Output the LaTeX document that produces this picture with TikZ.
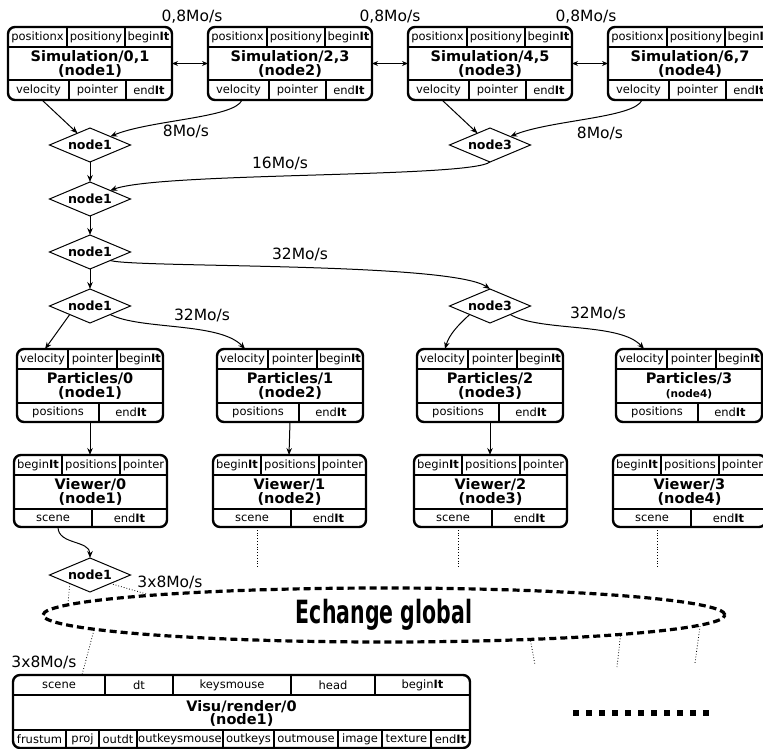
\documentclass[tikz,border=0pt]{standalone}
\usepackage{fontspec}
\setmainfont{DejaVu Sans}
\usetikzlibrary{shapes.geometric,arrows.meta}
\tikzset{
 outer/.style={draw, line width=2.4pt, rounded corners=7pt, inner sep=0pt, outer sep=0pt, anchor=north west},
 div/.style={line width=1.8pt},
 cell/.style={inner sep=0pt, font=\fontsize{11.5}{12}\selectfont},
 ttl/.style={inner sep=0pt, align=center, font=\fontsize{14.5}{14}\selectfont\bfseries},
 dia/.style={diamond, draw, aspect=2.4, line width=1pt, minimum width=81pt, minimum height=34pt, inner sep=0pt, outer sep=0pt, font=\fontsize{12.6}{13}\selectfont\bfseries},
 lbl/.style={inner sep=0pt, font=\fontsize{15.5}{16}\selectfont},
 arr/.style={-{Stealth[length=7pt,width=5.5pt]}, line width=1pt},
 dbl/.style={{Stealth[length=6pt,width=5pt]}-{Stealth[length=6pt,width=5pt]}, line width=1pt},
 dot/.style={dotted, line width=0.8pt},
 glob/.style={ellipse, draw, line width=3.2pt, dash pattern=on 7pt off 4pt, minimum width=682pt, minimum height=54pt, inner sep=0pt},
}
\newcommand\SimBox[5]{%
\begin{scope}[shift={(#2,#3)}]
 \node[outer, minimum width=164pt, minimum height=73pt] (#1) at (0,0) {};
 \draw[div] (0,20)--(164,20) (0,53)--(164,53) (59,0)--(59,20) (117,0)--(117,20) (61,53)--(61,73) (118,53)--(118,73);
 \node[cell] (#1-a) at (29.5,10.5) {positionx};
 \node[cell] (#1-b) at (88,10.5) {positiony};
 \node[cell] (#1-c) at (140.5,10.5) {begin\textbf{It}};
 \node[ttl] (#1-t) at (82,36.5) {#4\\#5};
 \node[cell] (#1-d) at (30.5,63) {velocity};
 \node[cell] (#1-e) at (89.5,63) {pointer};
 \node[cell] (#1-f) at (141,63) {end\textbf{It}};
 \coordinate (#1-out) at (34,73);
\end{scope}}
\newcommand\PartBox[5]{%
\begin{scope}[shift={(#2,#3)}]
 \node[outer, minimum width=146pt, minimum height=73pt] (#1) at (0,0) {};
 \draw[div] (0,20)--(146,20) (0,54)--(146,54) (51,0)--(51,20) (100,0)--(100,20) (82,54)--(82,73);
 \node[cell] (#1-a) at (25.5,10.5) {velocity};
 \node[cell] (#1-b) at (75.5,10.5) {pointer};
 \node[cell] (#1-c) at (123,10.5) {begin\textbf{It}};
 \node[ttl] (#1-t) at (73,37) {#4\\#5};
 \node[cell] (#1-d) at (41,63.5) {positions};
 \node[cell] (#1-e) at (114,63.5) {end\textbf{It}};
 \coordinate (#1-in) at (28,0);
 \coordinate (#1-out) at (73,73);
\end{scope}}
\newcommand\ViewBox[5]{%
\begin{scope}[shift={(#2,#3)}]
 \node[outer, minimum width=153pt, minimum height=72pt] (#1) at (0,0) {};
 \draw[div] (0,20)--(153,20) (0,54)--(153,54) (48,0)--(48,20) (106,0)--(106,20) (78,54)--(78,72);
 \node[cell] (#1-a) at (24,10.5) {begin\textbf{It}};
 \node[cell] (#1-b) at (77,10.5) {positions};
 \node[cell] (#1-c) at (129.5,10.5) {pointer};
 \node[ttl] (#1-t) at (76.5,37) {#4\\#5};
 \node[cell] (#1-d) at (39,63.5) {scene};
 \node[cell] (#1-e) at (115.5,63.5) {end\textbf{It}};
 \coordinate (#1-in) at (76,0);
 \coordinate (#1-out) at (44,72);
\end{scope}}
\begin{document}
\begin{tikzpicture}[x=1pt,y=-1pt]
\useasboundingbox (0,0) rectangle (763,749);
\clip (0,0) rectangle (763,749);
% simulation row
\SimBox{s0}{8}{27}{Simulation/0,1}{(node1)}
\SimBox{s1}{208}{27}{Simulation/2,3}{(node2)}
\SimBox{s2}{408}{27}{Simulation/4,5}{(node3)}
\SimBox{s3}{608}{27}{Simulation/6,7}{(node4)}
\draw[dbl] (s0.east) -- (s1.west);
\draw[dbl] (s1.east) -- (s2.west);
\draw[dbl] (s2.east) -- (s3.west);
\node[lbl] (la) at (192,17) {0,8Mo/s};
\node[lbl] (lb) at (390,17) {0,8Mo/s};
\node[lbl] (lc) at (586,17) {0,8Mo/s};
% diamonds
\node[dia] (d1) at (90,145) {node1};
\node[dia] (d2) at (90,199) {node1};
\node[dia] (d3) at (90,252) {node1};
\node[dia] (d4) at (90,306) {node1};
\node[dia] (n3) at (490,145) {node3};
\node[dia] (n3b) at (490,306) {node3};
\node[dia] (d5) at (90,575) {node1};
% particles and viewers
\PartBox{p0}{17}{349}{Particles/0}{(node1)}
\PartBox{p1}{217}{349}{Particles/1}{(node2)}
\PartBox{p2}{417}{349}{Particles/2}{(node3)}
\PartBox{p3}{616}{349}{Particles/3}{{\fontsize{10.5}{11}\selectfont(node4)}}
\ViewBox{v0}{14}{455}{Viewer/0}{(node1)}
\ViewBox{v1}{213}{455}{Viewer/1}{(node2)}
\ViewBox{v2}{414}{455}{Viewer/2}{(node3)}
\ViewBox{v3}{613}{455}{Viewer/3}{(node4)}
% connectors
\draw[arr] (s0-out) -- (d1);
\draw[arr] (s1-out) .. controls (235,118) and (150,120) .. (d1.north east);
\draw[arr] (s2-out) -- (n3);
\draw[arr] (s3-out) .. controls (635,118) and (550,120) .. (n3.north east);
\node[lbl] (l8a) at (186,131) {8Mo/s};
\node[lbl] (l8b) at (600,133) {8Mo/s};
\draw[arr] (d1) -- (d2);
\draw[arr] (n3.south) .. controls (470,178) and (160,172) .. (d2.north east);
\node[lbl] (l16) at (280,163) {16Mo/s};
\draw[arr] (d2) -- (d3);
\draw[arr] (d3.south east) .. controls (135,268) and (450,262) .. (n3b.north);
\node[lbl] (l32a) at (300,254) {32Mo/s};
\draw[arr] (d3) -- (d4);
\draw[arr] (d4.south west) -- (p0-in);
\draw[arr] (d4.south east) .. controls (140,330) and (220,322) .. (p1-in);
\node[lbl] (l32b) at (202,315) {32Mo/s};
\draw[arr] (n3b.south west) .. controls (458,325) and (449,335) .. (p2-in);
\draw[arr] (n3b.south east) .. controls (540,332) and (620,322) .. (p3-in);
\node[lbl] (l32c) at (598,313) {32Mo/s};
\draw[arr] (p0-out) -- (v0-in);
\draw[arr] (p1-out) -- (v1-in);
\draw[arr] (p2-out) -- (v2-in);
\draw[arr] (v0-out) .. controls (58,545) and (90,540) .. (d5.north);
\coordinate (e1) at (257,568);
\coordinate (e2) at (458,567);
\coordinate (e3) at (657,567);
\draw[dot] (v1-out) -- (e1);
\draw[dot] (v2-out) -- (e2);
\draw[dot] (v3-out) -- (e3);
% global exchange
\node[glob] (eg) at (384,615) {\scalebox{0.64}[1]{\fontsize{32}{32}\selectfont\bfseries Echange global}};
\draw[dot] (d5.south west) -- (eg.178.08);
\draw[dot] (d5.south east) -- (eg.175.7);
\node[lbl] (l3a) at (170,582) {3x8Mo/s};
\coordinate (f1) at (535,665);
\coordinate (f2) at (617,667);
\coordinate (f3) at (695,663);
\draw[dot] (eg.-10.08) -- (f1);
\draw[dot] (eg.-5.55) -- (f2);
\draw[dot] (eg.-2.67) -- (f3);
% visu box
\begin{scope}[shift={(13,675)}]
 \node[outer, minimum width=457pt, minimum height=73pt] (vz) at (0,0) {};
 \draw[div] (0,20)--(457,20) (0,55)--(457,55)
   (92,0)--(92,20) (160,0)--(160,20) (278,0)--(278,20) (362,0)--(362,20)
   (53,55)--(53,73) (86,55)--(86,73) (124,55)--(124,73) (210,55)--(210,73)
   (261,55)--(261,73) (325,55)--(325,73) (369,55)--(369,73) (418,55)--(418,73);
 \node[cell] (vz-a) at (46,10.5) {scene};
 \node[cell] (vz-b) at (126,10.5) {dt};
 \node[cell] (vz-c) at (219,10.5) {keysmouse};
 \node[cell] (vz-d) at (320,10.5) {head};
 \node[cell] (vz-e) at (409.5,10.5) {begin\textbf{It}};
 \node[ttl, font=\fontsize{14.5}{13}\selectfont\bfseries] (vz-t) at (228.5,38) {Visu/render/0\\(node1)};
 \node[cell] (vz-f) at (26.5,64) {frustum};
 \node[cell] (vz-g) at (69.5,64) {proj};
 \node[cell] (vz-h) at (105,64) {outdt};
 \node[cell] (vz-i) at (167,64) {outkeysmouse};
 \node[cell] (vz-j) at (235.5,64) {outkeys};
 \node[cell] (vz-k) at (293,64) {outmouse};
 \node[cell] (vz-l) at (347,64) {image};
 \node[cell] (vz-m) at (393.5,64) {texture};
 \node[cell] (vz-n) at (437.5,64) {end\textbf{It}};
 \coordinate (vz-in) at (69,0);
\end{scope}
\draw[dot] (eg.183.02) -- (vz-in);
\node[lbl] (l3b) at (44,662) {3x8Mo/s};
% ellipsis marks
\foreach \i in {0,...,10} \fill (572.7+\i*13.03,710) rectangle ++(6,5.6);
\end{tikzpicture}
\end{document}
